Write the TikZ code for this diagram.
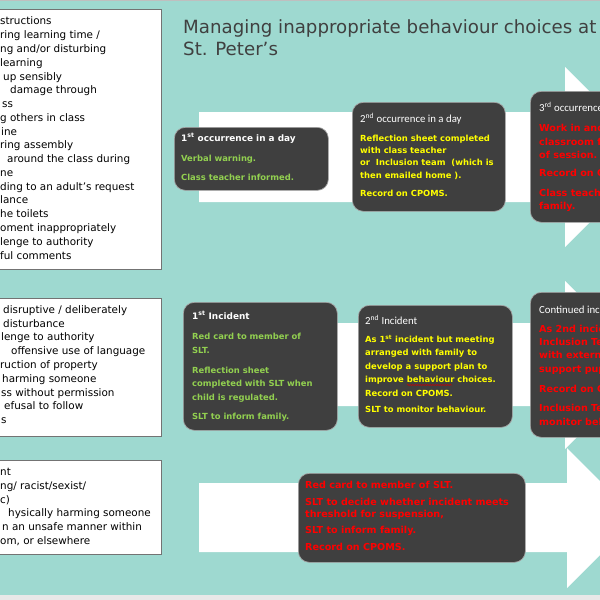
\documentclass[tikz,border=0pt]{standalone}
\usepackage{fontspec}
\setmainfont{DejaVu Sans}
\newfontfamily\calfont{Carlito}
\usetikzlibrary{decorations.pathmorphing}
\definecolor{teal}{HTML}{9ED9D0}
\definecolor{dbox}{HTML}{3F3F3F}
\definecolor{grn}{HTML}{92D050}
\definecolor{ylw}{HTML}{FFFF00}
\definecolor{rd}{HTML}{FF0000}
\definecolor{ttl}{HTML}{404040}
\newcounter{tl}
\newcommand{\tline}[4]{\stepcounter{tl}\node[anchor=base west,inner sep=0pt,text=#3,font=#4] (tl\arabic{tl}) at (#1) {#2};}
\tikzset{
  listbox/.style={draw=black!55,line width=0.8pt,fill=white},
  darkbox/.style={draw=black!35,line width=0.7pt,fill=dbox,rounded corners=11pt,anchor=north west,inner sep=0pt},
  arrowshape/.style={fill=white,draw=none},
}
\newcommand{\LT}{\fontsize{10.4}{12}\selectfont}
\newcommand{\BT}{\fontsize{8.4}{10}\selectfont\bfseries}
\newcommand{\RT}{\fontsize{9.6}{11}\selectfont\bfseries}
\newcommand{\HT}{\calfont\fontsize{10.8}{12}\selectfont}
\newcommand{\HB}{\fontsize{8.9}{10}\selectfont\bfseries}
\begin{document}
\begin{tikzpicture}[x=1pt,y=-1pt]
\useasboundingbox (0,0) rectangle (600,600);
\clip (0,0) rectangle (600,600);
% background
\fill[teal] (0,0) rectangle (600,600);
\fill[black!9] (0,595) rectangle (600,600);
\fill[black!25] (0,0) rectangle (600,1);
% arrows
\fill[arrowshape] (199,112) -- (565,112) -- (565,67) -- (655,157) -- (565,247) -- (565,202) -- (199,202) -- cycle;
\fill[arrowshape] (199,323) -- (565,323) -- (565,281) -- (649,365) -- (565,449) -- (565,406) -- (199,406) -- cycle;
\fill[arrowshape] (199,483) -- (567,483) -- (567,448) -- (637,518) -- (567,588) -- (567,552) -- (199,552) -- cycle;
% title
\node[anchor=base west,inner sep=0pt,text=ttl,font=\fontsize{18.2}{22}\selectfont] (title1) at (183,33) {Managing inappropriate behaviour choices at};
\node[anchor=base west,inner sep=0pt,text=ttl,font=\fontsize{18.2}{22}\selectfont] (title2) at (183,55) {St. Peter's};
% left boxes
\draw[listbox] (-5,9) rectangle (161,269);
\draw[listbox] (-5,298) rectangle (161,436);
\draw[listbox] (-5,460) rectangle (161,554);
% box 1 text
\tline{0,24}{structions}{black}{\LT}
\tline{0,38}{ring learning time /}{black}{\LT}
\tline{0,52}{ng and/or disturbing}{black}{\LT}
\tline{0,66}{learning}{black}{\LT}
\tline{3,80}{up sensibly}{black}{\LT}
\tline{10,93.5}{damage through}{black}{\LT}
\tline{2,107}{ss}{black}{\LT}
\tline{0,121}{g others in class}{black}{\LT}
\tline{1,135}{ine}{black}{\LT}
\tline{0,148.5}{ring assembly}{black}{\LT}
\tline{7,162.5}{around the class during}{black}{\LT}
\tline{0,176}{ne}{black}{\LT}
\tline{0,190}{ding to an adult's request}{black}{\LT}
\tline{0,203.5}{lance}{black}{\LT}
\tline{0,217.5}{he toilets}{black}{\LT}
\tline{0,231.5}{oment inappropriately}{black}{\LT}
\tline{0,245.5}{lenge to authority}{black}{\LT}
\tline{0,259.5}{ful comments}{black}{\LT}
% box 2 text
\tline{3,313.5}{disruptive / deliberately}{black}{\LT}
\tline{3,327}{disturbance}{black}{\LT}
\tline{1,340.5}{lenge to authority}{black}{\LT}
\tline{11,354.5}{offensive use of language}{black}{\LT}
\tline{0,368}{ruction of property}{black}{\LT}
\tline{2,382}{harming someone}{black}{\LT}
\tline{1,396}{ss without permission}{black}{\LT}
\tline{4,409.5}{efusal to follow}{black}{\LT}
\tline{1,423.5}{s}{black}{\LT}
% box 3 text
\tline{0,475.5}{nt}{black}{\LT}
\tline{0,489.5}{ng/ racist/sexist/}{black}{\LT}
\tline{0,503}{c)}{black}{\LT}
\tline{8,516.5}{hysically harming someone}{black}{\LT}
\tline{2,530.5}{n an unsafe manner within}{black}{\LT}
\tline{0,544.5}{om, or elsewhere}{black}{\LT}
% dark boxes
\node[darkbox,minimum width=154pt,minimum height=63pt] (boxA) at (174,127) {};
\node[darkbox,minimum width=153pt,minimum height=109pt] (boxB) at (352,102) {};
\node[darkbox,minimum width=110pt,minimum height=131pt] (boxC) at (530,91) {};
\node[darkbox,minimum width=154pt,minimum height=128pt] (boxD) at (183,302) {};
\node[darkbox,minimum width=154pt,minimum height=122pt] (boxE) at (358,305) {};
\node[darkbox,minimum width=110pt,minimum height=145pt] (boxF) at (530,292) {};
\node[darkbox,minimum width=227pt,minimum height=89pt] (boxG) at (298,473) {};
% box A
\tline{181,141}{1\textsuperscript{st} occurrence in a day}{white}{\HB}
\tline{181,161}{Verbal warning.}{grn}{\BT}
\tline{181,180}{Class teacher informed.}{grn}{\BT}
% box B
\tline{360,122}{2\textsuperscript{nd} occurrence in a day}{white}{\HT}
\tline{360,141}{Reflection sheet completed}{ylw}{\BT}
\tline{360,153}{with class teacher}{ylw}{\BT}
\tline{360,165}{or \ Inclusion team \ (which is}{ylw}{\BT}
\tline{360,178}{then emailed home ).}{ylw}{\BT}
\tline{360,196}{Record on CPOMS.}{ylw}{\BT}
% box C
\tline{539,111}{3\textsuperscript{rd} occurrence in a day}{white}{\HT}
\tline{539,131}{Work in another}{rd}{\RT}
\tline{539,145}{classroom for rest}{rd}{\RT}
\tline{539,158}{of session.}{rd}{\RT}
\tline{539,176}{Record on CPOMS.}{rd}{\RT}
\tline{539,196}{Class teacher to inform}{rd}{\RT}
\tline{539,209}{family.}{rd}{\RT}
% box D
\tline{192,319}{1\textsuperscript{st} Incident}{white}{\HB}
\tline{192,339}{Red card to member of}{grn}{\BT}
\tline{192,353}{SLT.}{grn}{\BT}
\tline{192,373}{Reflection sheet}{grn}{\BT}
\tline{192,386.5}{completed with SLT when}{grn}{\BT}
\tline{192,400}{child is regulated.}{grn}{\BT}
\tline{192,419}{SLT to inform family.}{grn}{\BT}
% box E
\tline{365,324}{2\textsuperscript{nd} Incident}{white}{\HT}
\tline{365,342}{As 1\textsuperscript{st} incident but meeting}{ylw}{\BT}
\tline{365,355.5}{arranged with family to}{ylw}{\BT}
\tline{365,369}{develop a support plan to}{ylw}{\BT}
\tline{365,382.5}{improve behaviour choices.}{ylw}{\BT}
\tline{365,396}{Record on CPOMS.}{ylw}{\BT}
\tline{365,412}{SLT to monitor behaviour.}{ylw}{\BT}
\draw[rd!80!black,line width=0.5pt,decorate,decoration={snake,amplitude=0.6pt,segment length=2.5pt}] (407,385) -- (452,385);
% box F
\tline{539,313}{Continued incidents}{white}{\HT}
\tline{539,332}{As 2nd incident,}{rd}{\RT}
\tline{539,345}{Inclusion Team}{rd}{\RT}
\tline{539,358.5}{with external}{rd}{\RT}
\tline{539,372}{support pupil}{rd}{\RT}
\tline{539,392}{Record on CPOMS.}{rd}{\RT}
\tline{539,411}{Inclusion Team to}{rd}{\RT}
\tline{539,425}{monitor behaviour.}{rd}{\RT}
% box G
\tline{305,488}{Red card to member of SLT.}{rd}{\RT}
\tline{305,505.5}{SLT to decide whether incident meets}{rd}{\RT}
\tline{305,517}{threshold for suspension,}{rd}{\RT}
\tline{305,533}{SLT to inform family.}{rd}{\RT}
\tline{305,550}{Record on CPOMS.}{rd}{\RT}
\end{tikzpicture}
\end{document}
